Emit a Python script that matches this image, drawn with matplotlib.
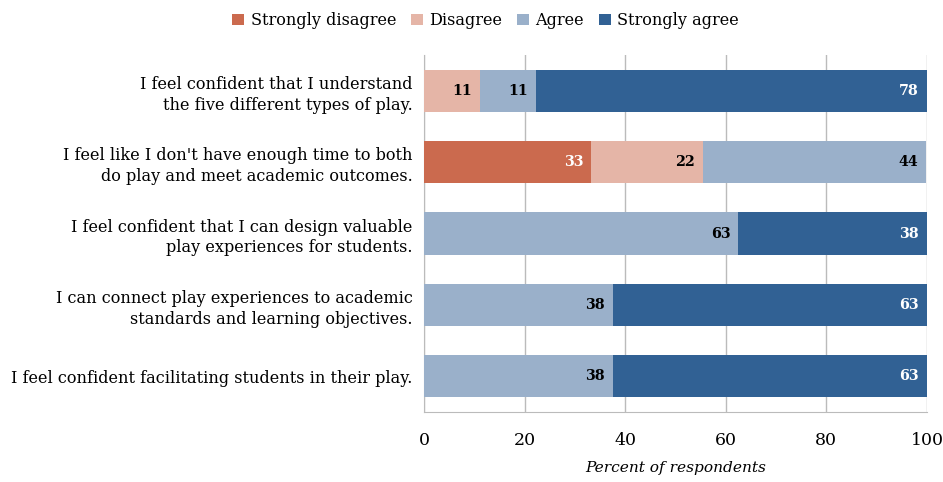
import matplotlib
matplotlib.use("Agg")
import matplotlib.pyplot as plt
import numpy as np
import math

categories = [
    "I feel confident that I understand\nthe five different types of play.",
    "I feel like I don't have enough time to both\ndo play and meet academic outcomes.",
    "I feel confident that I can design valuable\nplay experiences for students.",
    "I can connect play experiences to academic\nstandards and learning objectives.",
    "I feel confident facilitating students in their play.",
]
series_names = ["Strongly disagree", "Disagree", "Agree", "Strongly agree"]
strongly_disagree = [0, 33.3, 0, 0, 0]
disagree = [11.1, 22.2, 0, 0, 0]
agree = [11.1, 44.4, 62.5, 37.5, 37.5]
strongly_agree = [77.8, 0, 37.5, 62.5, 62.5]
x_ticks = [0, 20, 40, 60, 80, 100]

colors = ["#CB6A4E", "#E5B5A7", "#9AB0CA", "#316194"]
text_colors = ["white", "black", "black", "white"]

plt.rcParams['font.family'] = ['DejaVu Serif']
fig = plt.figure(figsize=(9.43, 4.82), dpi=100)
ax = fig.add_axes([0.4496, 0.145, 0.5334, 0.741])

data = [strongly_disagree, disagree, agree, strongly_agree]
y = np.arange(len(categories))
left = np.zeros(len(categories))
for name, vals, c, tc in zip(series_names, data, colors, text_colors):
    vals = np.array(vals, dtype=float)
    ax.barh(y, vals, left=left, height=0.59, color=c, label=name, zorder=3)
    for yi, v, l in zip(y, vals, left):
        if v > 0:
            ax.text(l + v - 1.6, yi, f"{int(math.floor(v + 0.5))}", ha="right", va="center",
                    color=tc, fontsize=10.3, fontweight="bold", zorder=4)
    left += vals

ax.set_xlim(0, 100)
ax.set_ylim(len(categories) - 0.5, -0.5)
ax.set_yticks(y)
ax.set_yticklabels(categories, fontsize=11.6, linespacing=1.3)
ax.set_xticks(x_ticks)
ax.set_xticklabels([str(t) for t in x_ticks], fontsize=12.5)
ax.tick_params(axis="x", length=0, pad=14)
ax.tick_params(axis="y", length=0, pad=8)
ax.grid(axis="x", color="#BBBBBB", linewidth=1, zorder=0)
for s in ["top", "right"]:
    ax.spines[s].set_visible(False)
for s in ["left", "bottom"]:
    ax.spines[s].set_color("#BBBBBB")
ax.set_xlabel("Percent of respondents", fontsize=11.1, style="italic", labelpad=9)

leg = fig.legend(loc="upper center", bbox_to_anchor=(0.515, 1.005), ncol=4,
                 frameon=False, fontsize=11.6, handlelength=0.75, handleheight=0.75,
                 handletextpad=0.4, columnspacing=0.9)

fig.savefig("out.png", dpi=100)
